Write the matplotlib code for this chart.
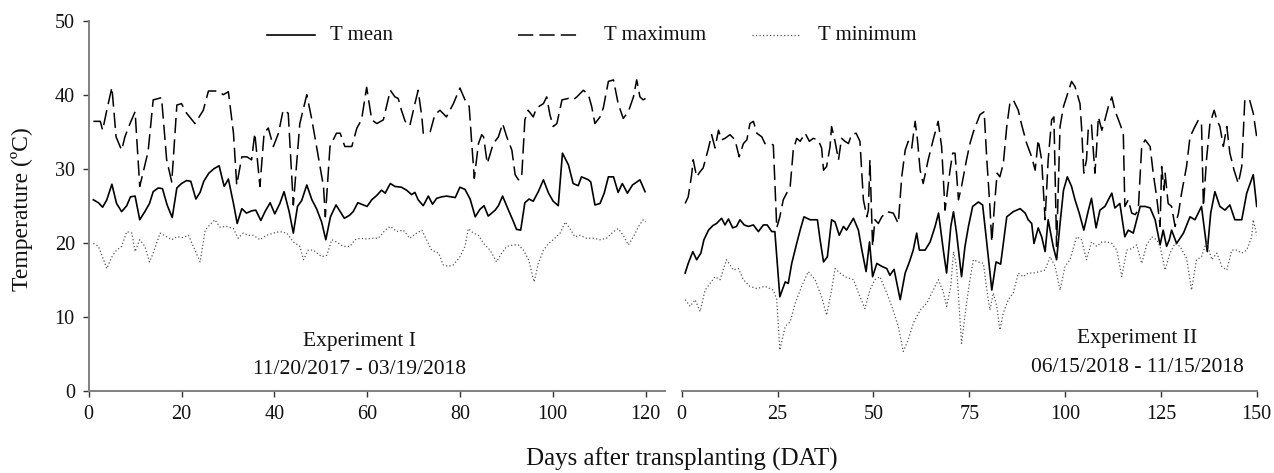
import matplotlib
matplotlib.use("Agg")
import matplotlib.pyplot as plt
from matplotlib.lines import Line2D

# ---- Experiment I (11/20/2017 - 03/19/2018) ----
exp1_max_day = [1, 2.5, 3, 3.9, 5, 5.9, 7.1, 7.8, 8.9, 10,
                11, 12.8, 13.9, 15.7, 16.8, 17.9, 19, 20, 21.1, 22.9,
                24.7, 25.8, 27.9, 29, 30.1, 31.2, 31.9, 33, 34.1, 35.1,
                35.8, 36.9, 37.8, 38.7, 39.8, 40.9, 41.9, 43, 44.1, 45.5,
                47, 48.1, 49.1, 50.6, 51, 52, 53.4, 54.2, 55.2, 56.7,
                57.8, 58.8, 59.9, 61, 62.1, 63.5, 65, 66, 66.7, 67.4,
                68.2, 69.2, 70.3, 71, 71.8, 72.1, 73.6, 74.6, 75.7, 77.1,
                78.6, 80, 81.1, 82, 82.5, 83.1, 84, 84.7, 85.1, 85.9,
                87.2, 88.3, 89.2, 90.1, 91.2, 91.9, 92.6, 93.3, 94, 94.7,
                95.8, 96.5, 98, 98.7, 99.4, 100.1, 100.9, 102, 103.4, 104.4,
                105.2, 106.6, 107.7, 108.4, 109.1, 110.2, 110.9, 112, 113.1, 114.1,
                115.2, 116.3, 117.4, 118.1, 118.8, 119.5, 120]
exp1_max = [36.4, 36.4, 35.2, 37.9, 41.0, 34.3, 32.5, 34.3, 36.1, 37.7,
            27.6, 32.3, 39.3, 39.6, 31.2, 28.2, 38.6, 38.8, 37.5, 36.1,
            37.9, 40.5, 40.5, 40.0, 40.4, 34.8, 27.8, 31.6, 31.6, 31.2,
            34.8, 27.6, 34.8, 35.5, 33.0, 34.8, 37.9, 37.5, 25.1, 36.1,
            40.0, 36.6, 33.0, 27.6, 23.5, 33.0, 34.8, 34.8, 33.0, 33.0,
            35.5, 36.6, 41.0, 36.6, 36.1, 36.6, 40.6, 39.7, 39.5, 37.9,
            36.4, 35.8, 38.8, 40.6, 37.0, 34.8, 35.0, 37.3, 37.9, 37.0,
            38.8, 40.9, 39.3, 38.4, 33.9, 28.7, 33.4, 34.6, 34.3, 30.7,
            33.4, 34.3, 36.1, 34.3, 32.5, 29.2, 28.5, 28.7, 36.6, 37.9,
            37.0, 38.2, 38.8, 39.7, 37.3, 35.7, 36.1, 39.3, 39.5, 39.3,
            39.7, 40.6, 40.0, 38.4, 36.1, 37.0, 38.2, 41.8, 42.0, 38.8,
            36.8, 37.7, 39.7, 42.0, 39.7, 39.3, 39.5]

exp1_mean_day = [1, 2.1, 3, 3.9, 5, 6, 7.1, 8.2, 9, 10,
                 11, 12.1, 13.1, 13.9, 15, 15.9, 16.9, 18, 19, 20,
                 21.1, 22, 23.1, 24, 24.8, 25.9, 27, 28.1, 29.2, 30.1,
                 31.2, 32, 33, 34, 35.1, 36, 37.1, 38, 39.1, 40.1,
                 41.2, 42.1, 43.2, 44.1, 45, 45.9, 47, 48.1, 49.1, 50.2,
                 51.1, 52.1, 53.3, 54.2, 55.1, 56.2, 57, 58, 59.2, 60,
                 61, 62.1, 63.1, 63.9, 65, 66, 67.4, 68.5, 69.6, 70.3,
                 71, 72.1, 73.2, 74.1, 75, 76.1, 77.1, 79, 80, 81.1,
                 82.2, 83.3, 84.3, 85.2, 86.1, 87.6, 88.3, 89.2, 90.4, 91.5,
                 92.2, 93.1, 94, 94.9, 95.8, 96.9, 98, 99.1, 100.1, 101.2,
                 102.1, 103.4, 104.4, 105.5, 106.2, 107.7, 108.2, 109.1, 110.2, 111.1,
                 112, 113.1, 114.1, 115, 116.1, 117.2, 118.8, 119.9]
exp1_mean = [25.8, 25.4, 24.8, 25.8, 27.9, 25.3, 24.2, 25.0, 26.2, 26.3,
             23.1, 24.2, 25.3, 26.9, 27.4, 27.3, 25.1, 23.4, 27.4, 28.0,
             28.4, 28.3, 25.9, 26.8, 28.3, 29.4, 30.0, 30.4, 27.6, 28.6,
             25.3, 22.6, 24.6, 24.0, 24.3, 24.4, 23.0, 24.2, 25.4, 23.9,
             25.3, 26.9, 24.2, 21.3, 24.9, 25.7, 27.8, 25.8, 24.6, 22.8,
             20.4, 23.5, 25.1, 24.2, 23.3, 23.7, 24.2, 25.4, 25.1, 24.9,
             25.8, 26.4, 27.1, 26.7, 28.0, 27.6, 27.5, 27.1, 26.5, 26.8,
             25.8, 25.0, 26.3, 25.2, 26.0, 26.2, 26.3, 26.1, 27.5, 27.2,
             25.9, 23.5, 24.5, 25.0, 23.6, 24.4, 25.0, 26.3, 24.5, 22.9,
             21.8, 21.7, 25.4, 25.9, 25.6, 26.9, 28.5, 26.7, 25.6, 25.0,
             32.1, 30.5, 28.0, 27.7, 28.9, 28.5, 28.2, 25.1, 25.3, 26.7,
             28.9, 28.9, 26.8, 28.0, 26.7, 27.8, 28.5, 26.9]

exp1_min_day = [1, 2.1, 3.2, 3.9, 5, 6, 7.1, 8.2, 9.3, 10,
                11, 12.1, 13.1, 13.9, 15.4, 16.8, 17.9, 19, 20.3, 21.5,
                22.9, 24, 25.1, 26.1, 27.2, 28.3, 29.7, 31.2, 32.2, 33.3,
                34.4, 35.5, 36.9, 38.3, 39.8, 41.2, 42.7, 44.1, 45.5, 46.3,
                47.3, 48.4, 50.2, 51.3, 52.4, 53.4, 54.9, 56.3, 57.4, 58.5,
                59.9, 61, 62.4, 63.9, 65, 66.4, 67.8, 69.2, 70.7, 71.8,
                72.8, 73.9, 75.4, 76.4, 77.5, 78.6, 80, 81.1, 81.8, 82.9,
                84, 85.1, 86.5, 87.9, 89, 90.1, 91.5, 92.6, 93.7, 94.8,
                96, 96.9, 98, 99.1, 100.1, 101.6, 102.7, 103.7, 104.8, 105.9,
                107.3, 108.8, 110.2, 111.6, 113.1, 114.1, 115.2, 116.3, 117.4, 118.5,
                119.5, 120]
exp1_min = [19.9, 19.5, 17.7, 16.5, 18.1, 19.0, 19.5, 21.5, 21.3, 18.8,
            20.4, 19.5, 17.4, 18.6, 21.3, 20.8, 20.4, 20.8, 20.7, 21.0,
            19.0, 17.4, 21.7, 22.4, 23.1, 22.1, 22.2, 21.9, 20.6, 21.3,
            21.0, 21.0, 20.4, 21.0, 21.3, 21.5, 21.3, 20.1, 19.5, 17.7,
            19.0, 19.0, 18.1, 18.3, 20.4, 20.1, 19.5, 19.5, 20.4, 20.6,
            20.5, 20.6, 20.6, 21.7, 22.2, 21.5, 21.7, 20.6, 21.3, 21.7,
            20.4, 19.0, 18.6, 17.0, 16.8, 17.0, 18.1, 19.5, 21.9, 21.3,
            21.0, 19.9, 19.0, 17.4, 18.6, 19.5, 19.7, 19.7, 19.0, 17.7,
            14.7, 17.2, 19.0, 19.9, 20.4, 21.3, 22.8, 21.9, 20.8, 21.0,
            20.6, 20.6, 20.4, 20.6, 21.5, 21.9, 21.0, 19.7, 20.8, 22.2,
            23.1, 22.8]

# ---- Experiment II (06/15/2018 - 11/15/2018) ----
exp2_max_day = [0.9, 1.7, 2.6, 3, 3.9, 4.8, 5.6, 7, 7.8, 8.7,
                9.6, 10.4, 11.3, 12.6, 13.9, 15, 16.1, 17, 17.8, 18.7,
                19.6, 20.9, 21.7, 23, 23.9, 24.8, 25.6, 26.5, 27.4, 28.3,
                29.1, 30, 30.9, 32.2, 33.3, 34.3, 35.6, 36.5, 37, 37.8,
                38.7, 39.1, 40, 40.9, 41.7, 42.6, 43.5, 44.3, 45.5, 46.5,
                47.4, 48.3, 48.7, 49.1, 49.8, 50.4, 51.3, 52.2, 53.5, 55.2,
                56.5, 57.4, 58.3, 59.1, 60, 60.9, 61.5, 62.2, 63, 64.3,
                65.6, 66.9, 67.8, 68.7, 70, 70.7, 71.3, 72.2, 73, 74.3,
                75.2, 76.1, 77.8, 78.9, 79.6, 80.4, 80.9, 81.7, 82.3, 83,
                83.9, 84.8, 85.6, 86.5, 87.8, 88.7, 90, 91.3, 92.2, 93,
                93.9, 94.8, 95.6, 96.5, 97.1, 97.8, 98.7, 99.6, 100.4, 101.7,
                102.6, 103.9, 104.3, 104.9, 105.6, 106.1, 106.9, 107.8, 108.2, 108.7,
                109.6, 110.4, 111.3, 112.2, 113, 114.3, 115.2, 115.6, 116.5, 117.4,
                118.3, 119.1, 120, 120.9, 122.2, 123, 123.9, 124.8, 125.2, 125.8,
                126.1, 126.9, 127.8, 128.7, 129.6, 130.4, 131.7, 132.6, 133.9, 134.8,
                135.6, 136.1, 136.9, 137.8, 138.9, 139.6, 140.4, 141.3, 142.2, 143,
                144.1, 145.2, 146.1, 146.9, 148.1, 149.1, 150]
exp2_max = [25.3, 26.2, 29.2, 31.2, 28.9, 29.6, 30.1, 32.8, 34.6, 32.8,
            35.2, 33.9, 34.1, 34.6, 33.9, 31.6, 33.4, 33.9, 36.1, 36.4,
            34.8, 34.3, 33.4, 33.4, 33.2, 22.0, 23.5, 25.8, 26.7, 27.6,
            32.5, 34.1, 33.7, 34.8, 33.7, 34.1, 33.9, 32.8, 29.8, 30.3,
            33.0, 35.7, 33.7, 31.2, 34.1, 33.7, 33.4, 34.6, 34.8, 33.7,
            25.8, 23.5, 24.4, 31.2, 19.5, 23.1, 22.6, 23.5, 24.2, 24.0,
            22.6, 28.9, 32.5, 33.7, 32.8, 36.4, 33.9, 29.8, 28.0, 31.2,
            33.9, 36.4, 33.0, 24.4, 29.8, 32.1, 32.1, 25.8, 27.6, 31.2,
            33.4, 35.0, 37.3, 37.7, 31.2, 24.9, 20.1, 25.8, 29.4, 28.9,
            30.7, 35.7, 38.8, 39.3, 37.9, 35.9, 33.4, 31.6, 29.8, 33.9,
            31.2, 23.1, 31.2, 36.6, 37.0, 19.5, 35.7, 38.4, 39.7, 41.8,
            41.1, 38.8, 35.7, 29.4, 31.2, 35.7, 35.9, 29.4, 32.5, 37.0,
            35.2, 36.6, 38.4, 39.7, 37.9, 36.1, 34.8, 24.9, 25.8, 24.0,
            23.8, 24.4, 33.0, 33.9, 33.0, 29.4, 26.2, 22.2, 30.3, 27.1,
            29.4, 25.3, 24.9, 22.2, 24.0, 26.7, 30.3, 34.3, 35.7, 36.6,
            36.1, 24.9, 31.2, 36.1, 37.9, 36.6, 35.7, 33.0, 35.7, 32.1,
            29.8, 28.0, 30.3, 39.3, 39.4, 37.5, 34.3]

exp2_mean_day = [0.9, 1.7, 2.9, 3.9, 5, 5.8, 7, 8.1, 9.1, 10.4,
                 11.3, 12.2, 13.3, 14.3, 15.2, 16.3, 17.4, 18.7, 20, 21.3,
                 22.3, 23.5, 24.3, 25.6, 27, 27.8, 28.7, 30, 30.9, 31.9,
                 33.5, 35.4, 36.1, 37, 38, 39.1, 40, 41.1, 42.2, 43,
                 44.8, 46.1, 47, 48.1, 49, 49.8, 50.9, 52.2, 53.5, 54.3,
                 55.4, 57, 58.3, 59.4, 60.4, 61.3, 62, 63.5, 64.8, 66.1,
                 67, 68.3, 69.1, 70.2, 70.9, 71.7, 73, 73.9, 74.8, 75.9,
                 77.4, 78.5, 79.6, 80.9, 82, 83.2, 84.8, 86.5, 88.3, 89.6,
                 90.4, 91.3, 91.9, 93, 93.9, 94.8, 95.6, 96.9, 97.8, 98.7,
                 99.6, 100.6, 101.7, 102.6, 103.7, 104.9, 106.1, 106.9, 108.1, 109.1,
                 110.4, 112.2, 113, 114.3, 115.6, 116.5, 117.8, 119.6, 120.9, 122.2,
                 123.5, 124.8, 125.6, 126.5, 127.2, 127.8, 129.1, 130.9, 132.6, 133.9,
                 135.6, 137.1, 138, 139.1, 140.4, 141.7, 143, 144.3, 146.1, 147.4,
                 149.1, 150]
exp2_mean = [15.9, 17.2, 18.8, 17.7, 18.6, 20.4, 21.7, 22.3, 22.6, 23.3,
             22.4, 23.2, 22.0, 22.2, 23.1, 22.4, 22.2, 22.4, 21.5, 22.4,
             22.4, 21.5, 21.5, 12.7, 14.7, 14.5, 17.2, 19.9, 21.7, 23.5,
             23.1, 23.1, 20.4, 17.4, 18.1, 23.1, 22.8, 21.0, 22.2, 21.7,
             23.3, 21.7, 19.0, 16.1, 20.1, 15.4, 17.2, 16.8, 16.5, 15.6,
             16.4, 12.3, 15.9, 17.4, 19.0, 21.3, 19.0, 19.0, 20.1, 22.2,
             24.0, 18.8, 15.9, 22.2, 24.2, 21.3, 15.4, 19.5, 22.2, 24.9,
             25.5, 25.1, 19.9, 13.6, 17.4, 17.1, 23.5, 24.2, 24.6, 24.0,
             23.1, 22.6, 19.9, 22.0, 20.8, 18.8, 23.1, 19.5, 17.7, 22.6,
             27.1, 28.9, 27.6, 25.8, 24.0, 21.7, 24.4, 26.0, 22.0, 24.4,
             24.9, 26.7, 24.7, 25.3, 20.8, 21.7, 21.3, 24.9, 24.9, 24.7,
             23.1, 19.7, 21.7, 19.5, 20.4, 21.7, 19.9, 21.3, 23.5, 23.1,
             24.9, 18.8, 24.0, 26.9, 24.9, 24.4, 25.1, 23.1, 23.1, 26.7,
             29.2, 24.9]

exp2_min_day = [0.9, 2.2, 3.5, 4.8, 6.1, 7.4, 8.7, 10, 11.7, 13.5,
                14.8, 16.1, 17.8, 19.6, 21.7, 23.9, 24.8, 25.6, 27, 28.3,
                29.6, 31.3, 33, 34.8, 36.5, 37.8, 39.1, 40, 41.3, 42.6,
                44.8, 46.5, 47.8, 49.1, 50.4, 51.7, 53.5, 54.8, 56.5, 57.8,
                59.1, 60.4, 62.2, 63.9, 65.6, 67, 68.3, 69.1, 70.2, 70.9,
                71.7, 73, 74.3, 75.2, 76.1, 77.4, 78.7, 79.6, 80.4, 81.3,
                82.2, 83, 83.9, 85.2, 86.5, 87.8, 89.1, 90.4, 91.7, 93.5,
                94.8, 96.1, 97.4, 98.7, 100, 101.3, 103, 104.3, 105.6, 106.9,
                108.3, 109.6, 110.9, 112.2, 113.5, 114.8, 116.1, 117.4, 118.7, 120,
                121.3, 122.6, 123.9, 124.8, 126.1, 127.4, 128.7, 130, 131.7, 133,
                134.3, 135.6, 136.9, 138.3, 139.6, 140.9, 142.2, 143.5, 144.8, 146.1,
                147.4, 148.7, 149.1, 150]
exp2_min = [12.3, 11.4, 12.3, 10.7, 13.6, 14.5, 15.4, 15.0, 17.7, 16.3,
            16.5, 15.0, 14.1, 13.8, 14.1, 13.6, 12.3, 5.5, 8.7, 9.3,
            11.8, 14.1, 16.1, 15.0, 12.7, 10.2, 13.6, 16.5, 15.9, 15.4,
            15.0, 12.7, 11.1, 13.6, 15.0, 15.4, 13.2, 11.4, 8.7, 5.3,
            6.9, 9.1, 10.9, 11.8, 13.6, 15.0, 13.2, 11.4, 14.1, 18.8,
            16.8, 6.4, 11.8, 15.0, 17.7, 17.4, 17.2, 13.6, 10.9, 13.2,
            11.4, 8.2, 10.5, 12.3, 13.2, 15.9, 15.4, 15.9, 15.9, 16.1,
            16.3, 18.1, 16.8, 13.6, 16.8, 17.7, 20.8, 20.4, 17.7, 20.1,
            19.5, 20.1, 20.1, 19.9, 19.0, 15.4, 19.0, 19.2, 19.7, 17.2,
            19.7, 20.8, 20.4, 19.5, 16.3, 18.6, 19.9, 19.5, 17.9, 13.6,
            17.7, 18.1, 20.1, 17.7, 18.6, 16.8, 16.3, 19.0, 19.0, 18.6,
            19.0, 20.8, 23.1, 21.0]

series_labels = ["T mean", "T maximum", "T minimum"]

plt.rcParams['font.family'] = ['Liberation Serif', 'DejaVu Serif']

W, H = 1274, 473
fig = plt.figure(figsize=(W / 100, H / 100), dpi=100)

# axes placed in pixel terms, converted to figure fractions
ax1 = fig.add_axes([88.7 / W, 82.3 / H, 576.3 / W, 370.0 / H])
ax2 = fig.add_axes([681.7 / W, 82.3 / H, 575.0 / W, 370.0 / H])

styles = {
    "mean": dict(color="black", lw=1.2, ls="-"),
    "max": dict(color="black", lw=1.1, ls=(0, (10, 4))),
    "min": dict(color="#555555", lw=0.9, ls=(0, (1, 1.8))),
}

ax1.plot(exp1_mean_day, exp1_mean, **styles["mean"])
ax1.plot(exp1_max_day, exp1_max, **styles["max"])
ax1.plot(exp1_min_day, exp1_min, **styles["min"])

ax2.plot(exp2_mean_day, exp2_mean, **styles["mean"])
ax2.plot(exp2_max_day, exp2_max, **styles["max"])
ax2.plot(exp2_min_day, exp2_min, **styles["min"])

spine_col = "#808080"
for ax in (ax1, ax2):
    ax.set_ylim(0, 50)
    ax.spines['top'].set_visible(False)
    ax.spines['right'].set_visible(False)
    ax.spines['bottom'].set_color(spine_col)
    ax.spines['bottom'].set_linewidth(1.4)
    ax.spines['left'].set_color(spine_col)
    ax.spines['left'].set_linewidth(1.4)
    ax.tick_params(direction='out', length=4, width=1.0, color='#333333',
                   labelsize=14.5, labelcolor='#111111', pad=6)

ax1.set_xlim(0, 124.2)
ax1.set_xticks(range(0, 121, 20))
ax1.set_yticks(range(0, 51, 10))

ax2.set_xlim(0, 150)
ax2.set_xticks(range(0, 151, 25))
ax2.spines['left'].set_visible(False)
ax2.tick_params(axis='y', left=False, labelleft=False)

# experiment annotations
ann_kw = dict(ha='center', va='center', fontsize=15.5, color='#111111')
ax1.text(58.3, 6.6, "Experiment I", **ann_kw)
ax1.text(58.3, 2.8, "11/20/2017 - 03/19/2018", **ann_kw)
ax2.text(118.8, 7.1, "Experiment II", **ann_kw)
ax2.text(118.8, 3.1, "06/15/2018 - 11/15/2018", **ann_kw)

# axis titles
fig.text(22 / W, 1 - 209.5 / H, "Temperature (ºC)", rotation=90,
         ha='center', va='center', fontsize=17, color='#111111')
fig.text(682 / W, 1 - 459 / H, "Days after transplanting (DAT)",
         ha='center', va='center', fontsize=18, color='#111111')

# legend drawn across the top, spaced like the original
leg_y = 1 - 35 / H
legend_pos = [(267, 315, 330), (518, 580, 604), (752, 800, 818)]
for (x0, x1, xt), key, lab in zip(legend_pos, ["mean", "max", "min"], series_labels):
    fig.add_artist(Line2D([x0 / W, x1 / W], [leg_y, leg_y],
                          transform=fig.transFigure, **styles[key]))
    fig.text(xt / W, leg_y, lab, ha='left', va='center', fontsize=15,
             color='#111111')

fig.savefig("out.png", dpi=100)
